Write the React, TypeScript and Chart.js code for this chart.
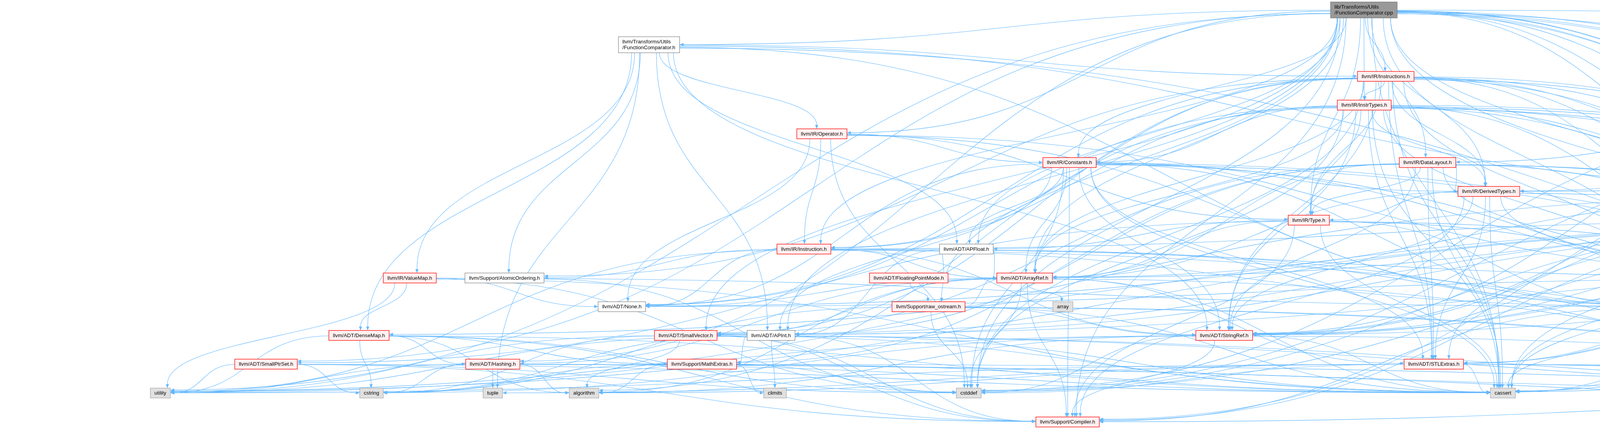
import { useEffect, useRef } from "react";
import { Chart, registerables } from "chart.js";

Chart.register(...registerables);

const WIDTH = 8000;
const HEIGHT = 1098;
const FONT = '13.33px "Liberation Sans", Arial, sans-serif';
const EDGE = "#63b8ff";

// one entry per header in the include graph
const nodeKeys = [
  "root", "FCh", "Debug", "Instructions", "InstrTypes", "Module", "Operator", "Function",
  "Constants", "DataLayout", "GlobalValue", "DerivedTypes", "Attributes", "Type", "BasicBlock",
  "Metadata", "Instruction", "APFloat", "Constant", "InlineAsm", "ValueMap", "AtomicOrdering",
  "FPMode", "ArrayRef", "Value", "None", "raw_ostream", "array", "Casting", "LLVMContext",
  "DenseMap", "SmallVector", "APInt", "StringRef", "SmallPtrSet", "Hashing", "MathExtras",
  "STLExtras", "utility", "cstring", "tuple", "algorithm", "climits", "cstddef", "cassert",
  "ErrorHandling", "memory", "cstdint", "Compiler", "string",
];

const nodeLabels = [
  "lib/Transforms/Utils\n/FunctionComparator.cpp", "llvm/Transforms/Utils\n/FunctionComparator.h",
  "llvm/Support/Debug.h", "llvm/IR/Instructions.h", "llvm/IR/InstrTypes.h", "llvm/IR/Module.h",
  "llvm/IR/Operator.h", "llvm/IR/Function.h", "llvm/IR/Constants.h", "llvm/IR/DataLayout.h",
  "llvm/IR/GlobalValue.h", "llvm/IR/DerivedTypes.h", "llvm/IR/Attributes.h", "llvm/IR/Type.h",
  "llvm/IR/BasicBlock.h", "llvm/IR/Metadata.h", "llvm/IR/Instruction.h", "llvm/ADT/APFloat.h",
  "llvm/IR/Constant.h", "llvm/IR/InlineAsm.h", "llvm/IR/ValueMap.h", "llvm/Support/AtomicOrdering.h",
  "llvm/ADT/FloatingPointMode.h", "llvm/ADT/ArrayRef.h", "llvm/IR/Value.h", "llvm/ADT/None.h",
  "llvm/Support/raw_ostream.h", "array", "llvm/Support/Casting.h", "llvm/IR/LLVMContext.h",
  "llvm/ADT/DenseMap.h", "llvm/ADT/SmallVector.h", "llvm/ADT/APInt.h", "llvm/ADT/StringRef.h",
  "llvm/ADT/SmallPtrSet.h", "llvm/ADT/Hashing.h", "llvm/Support/MathExtras.h", "llvm/ADT/STLExtras.h",
  "utility", "cstring", "tuple", "algorithm", "climits", "cstddef", "cassert",
  "llvm/Support/ErrorHandling.h", "memory", "cstdint", "llvm/Support/Compiler.h", "string",
];

// horizontal position of each node centre (graph units)
const nodeX = [
  3491.5, 1661.5, 7921, 3547.5, 3492.5, 4958, 2104, 5117,
  2738, 3654.5, 5927.5, 3811.5, 4914, 3350.5, 4868.5,
  5213, 2058, 2474, 5521, 6184.5, 1049, 1291.5,
  2326.5, 2623, 4810.5, 1592, 2377, 2721, 4317, 7086.5,
  919, 1755.5, 1974, 3134, 681, 1261.5, 1797,
  3670.5, 410.5, 951, 1261.5, 1495, 1984, 2480, 3847.5,
  5773, 5965.5, 6761, 2733, 7278,
];

// layer (rank) of each node
const nodeRank = [
  0, 1, 1, 2, 3, 3, 4, 4,
  5, 5, 5, 6, 6, 7, 7,
  7, 8, 8, 8, 8, 9, 9,
  9, 9, 9, 10, 10, 10, 10, 10,
  11, 11, 11, 11, 12, 12, 12,
  12, 13, 13, 13, 13, 13, 13, 13,
  13, 13, 13, 14, 14,
];

// root = the documented file, doc = documented header, red = truncated header, sys = system header
const nodeKind = [
  "root", "doc", "doc", "red", "red", "red", "red", "red",
  "red", "red", "red", "red", "red", "red", "red",
  "red", "red", "doc", "red", "red", "red", "doc",
  "red", "red", "red", "doc", "red", "sys", "red", "red",
  "red", "red", "doc", "red", "red", "red", "red",
  "red", "sys", "sys", "sys", "sys", "sys", "sys", "sys",
  "doc", "sys", "sys", "red", "sys",
];

// vertical centre of each rank
const rankY = [25.5, 114.5, 195.5, 269, 342.5, 416, 490, 563.5, 637.5, 711.5, 785, 858.5, 932, 1006, 1080];

// "source: included headers"
const includeLists = [
  "root: FCh Debug Instructions InstrTypes Module Operator Function Constants DataLayout GlobalValue DerivedTypes Attributes Type BasicBlock Metadata Instruction APFloat Constant InlineAsm ArrayRef Value Casting LLVMContext SmallPtrSet SmallVector APInt Hashing raw_ostream ErrorHandling Compiler cassert cstddef cstdint utility memory",
  "FCh: APFloat APInt DenseMap StringRef Attributes Instructions Operator ValueMap AtomicOrdering Casting cstdint tuple",
  "Instructions: ArrayRef None STLExtras SmallVector StringRef Attributes BasicBlock Constant DerivedTypes Function InstrTypes Instruction Type Value AtomicOrdering Casting ErrorHandling cassert cstddef cstdint",
  "InstrTypes: ArrayRef None STLExtras StringRef Attributes Constants DerivedTypes Function Instruction LLVMContext Type Value Casting ErrorHandling algorithm cassert cstddef cstdint string",
  "Module: STLExtras StringRef Attributes DataLayout Function Metadata cstddef cstdint memory string",
  "Operator: None Constants Instruction Type Value Casting cstddef",
  "Function: StringRef Attributes BasicBlock DerivedTypes GlobalValue Value Casting Compiler cassert cstddef cstdint memory string",
  "Constants: APFloat APInt ArrayRef None STLExtras StringRef Constant DerivedTypes Value Casting Compiler ErrorHandling cassert cstddef cstdint",
  "DataLayout: APInt ArrayRef STLExtras SmallVector StringRef DerivedTypes Type Casting ErrorHandling MathExtras cassert cstdint string",
  "GlobalValue: StringRef Constant DerivedTypes Value Casting ErrorHandling cassert cstdint string",
  "DerivedTypes: ArrayRef STLExtras StringRef Type Casting Compiler cassert cstdint",
  "Attributes: ArrayRef StringRef cassert cstdint memory string utility",
  "Type: APFloat ArrayRef SmallPtrSet Casting Compiler ErrorHandling cassert cstdint",
  "BasicBlock: Instruction Value Compiler cassert cstddef",
  "Metadata: APInt ArrayRef DenseMap None STLExtras SmallVector StringRef Constant LLVMContext Value Casting ErrorHandling cassert cstddef cstdint memory string utility",
  "Instruction: ArrayRef None StringRef Value AtomicOrdering Casting cstdint utility",
  "APFloat: APInt ArrayRef FPMode ErrorHandling memory",
  "Constant: Value Casting",
  "InlineAsm: SmallVector StringRef Value ErrorHandling cassert string",
  "ValueMap: DenseMap None Casting cassert cstddef utility",
  "AtomicOrdering: cstddef",
  "FPMode: raw_ostream",
  "ArrayRef: Hashing None STLExtras SmallVector Compiler algorithm array cassert cstddef memory",
  "Value: None STLExtras StringRef Casting cassert memory",
  "raw_ostream: ArrayRef StringRef cassert cstddef cstdint cstring string",
  "Casting: Compiler cassert memory",
  "LLVMContext: cstdint memory string",
  "DenseMap: Hashing Compiler MathExtras algorithm cassert cstddef cstring utility",
  "SmallVector: Compiler ErrorHandling algorithm cassert cstddef cstring memory utility",
  "APInt: Compiler MathExtras cassert climits cstring utility",
  "StringRef: Compiler algorithm cassert cstddef cstring string utility",
  "SmallPtrSet: Compiler cassert cstddef cstring utility",
  "Hashing: ErrorHandling algorithm cassert cstring string tuple utility",
  "MathExtras: Compiler algorithm cassert climits cstdint cstring",
  "STLExtras: ErrorHandling algorithm cassert cstddef cstdint memory tuple utility",
  "ErrorHandling: Compiler string",
];

const edges: [number, number][] = includeLists.flatMap((line) => {
  const [src, rest] = line.split(":");
  const s = nodeKeys.indexOf(src.trim());
  return rest.trim().split(/\s+/).map((t) => [s, nodeKeys.indexOf(t)] as [number, number]);
});

const clamp = (v: number, lo: number, hi: number) => Math.max(lo, Math.min(hi, v));

const nodeStyle: Record<string, { fill: string; stroke: string; lw: number }> = {
  root: { fill: "#999999", stroke: "#666666", lw: 1 },
  doc: { fill: "#ffffff", stroke: "#666666", lw: 1 },
  red: { fill: "#fff0f0", stroke: "#ff0000", lw: 1.3 },
  sys: { fill: "#e0e0e0", stroke: "#999999", lw: 1 },
};

const graphPlugin = {
  id: "includeGraph",
  afterDatasetsDraw(chart: any) {
    const { ctx } = chart;
    const sx = chart.scales.x;
    const sy = chart.scales.y;
    ctx.save();
    ctx.font = FONT;

    const boxes = nodeKeys.map((_, i) => {
      const lines = nodeLabels[i].split("\n");
      const tw = Math.max(...lines.map((l) => ctx.measureText(l).width));
      return {
        cx: sx.getPixelForValue(nodeX[i]),
        cy: sy.getPixelForValue(rankY[nodeRank[i]]),
        w: tw + 21,
        h: lines.length > 1 ? 41 : 25.5,
        lines,
      };
    });

    // edges
    ctx.strokeStyle = EDGE;
    ctx.fillStyle = EDGE;
    ctx.lineWidth = 1.1;
    edges.forEach(([s, t]) => {
      const a = boxes[s];
      const b = boxes[t];
      const dx = b.cx - a.cx;
      const dy = b.cy - b.h / 2 - (a.cy + a.h / 2);
      let p0: number[], p1: number[], p2: number[], p3: number[];
      if (Math.abs(dx) > 2.5 * Math.max(dy, 1)) {
        const dir = Math.sign(dx) || 1;
        p0 = [a.cx + (dir * a.w) / 2, a.cy + clamp(dy * 0.01, -a.h * 0.35, a.h * 0.35)];
        p3 = [b.cx - (dir * b.w) / 2, b.cy + clamp(-dy * 0.01, -b.h * 0.3, b.h * 0.3)];
        const mx = (p0[0] + p3[0]) / 2;
        p1 = [mx, p0[1]];
        p2 = [mx, p3[1]];
      } else {
        p0 = [a.cx + clamp(dx * 0.06, -a.w * 0.4, a.w * 0.4), a.cy + a.h / 2];
        p3 = [b.cx - clamp(dx * 0.03, -b.w * 0.35, b.w * 0.35), b.cy - b.h / 2];
        const k = (p3[1] - p0[1]) * 0.5;
        p1 = [p0[0], p0[1] + k];
        p2 = [p3[0], p3[1] - k];
      }
      const ang = Math.atan2(p3[1] - p2[1], p3[0] - p2[0]);
      const len = 10;
      const bx = p3[0] - len * Math.cos(ang);
      const by = p3[1] - len * Math.sin(ang);
      ctx.beginPath();
      ctx.moveTo(p0[0], p0[1]);
      ctx.bezierCurveTo(p1[0], p1[1], p2[0], p2[1], bx, by);
      ctx.stroke();
      ctx.beginPath();
      ctx.moveTo(p3[0], p3[1]);
      ctx.lineTo(bx + 4 * Math.sin(ang), by - 4 * Math.cos(ang));
      ctx.lineTo(bx - 4 * Math.sin(ang), by + 4 * Math.cos(ang));
      ctx.closePath();
      ctx.fill();
    });

    // nodes
    ctx.textBaseline = "middle";
    boxes.forEach((b, i) => {
      const st = nodeStyle[nodeKind[i]];
      const x0 = b.cx - b.w / 2;
      const y0 = b.cy - b.h / 2;
      ctx.fillStyle = st.fill;
      ctx.fillRect(x0, y0, b.w, b.h);
      ctx.strokeStyle = st.stroke;
      ctx.lineWidth = st.lw;
      ctx.strokeRect(x0, y0, b.w, b.h);
      ctx.fillStyle = "#000000";
      if (b.lines.length > 1) {
        ctx.textAlign = "left";
        b.lines.forEach((l, j) => ctx.fillText(l, x0 + 10, b.cy + (j - 0.5) * 15));
      } else {
        ctx.textAlign = "center";
        ctx.fillText(b.lines[0], b.cx, b.cy + 0.5);
      }
    });
    ctx.restore();
  },
};

const App = () => {
  const canvasRef = useRef<HTMLCanvasElement>(null);

  useEffect(() => {
    document.body.style.margin = "0";
    if (!canvasRef.current) return;
    const chart = new Chart(canvasRef.current, {
      type: "scatter",
      data: {
        datasets: [
          {
            data: nodeX.map((x, i) => ({ x, y: rankY[nodeRank[i]] })),
            pointRadius: 0,
            pointHoverRadius: 0,
          },
        ],
      },
      options: {
        responsive: false,
        animation: false,
        events: [],
        layout: { padding: 0 },
        plugins: { legend: { display: false }, tooltip: { enabled: false } },
        scales: {
          x: { type: "linear", min: 0, max: WIDTH, display: false },
          y: { type: "linear", min: 0, max: HEIGHT, reverse: true, display: false },
        },
      },
      plugins: [graphPlugin],
    });
    return () => chart.destroy();
  }, []);

  return (
    <div style={{ width: WIDTH, height: HEIGHT, background: "#ffffff", overflow: "hidden" }}>
      <canvas
        ref={canvasRef}
        width={WIDTH}
        height={HEIGHT}
        style={{ display: "block", width: `${WIDTH}px`, height: `${HEIGHT}px` }}
      ></canvas>
    </div>
  );
};

export default App;
